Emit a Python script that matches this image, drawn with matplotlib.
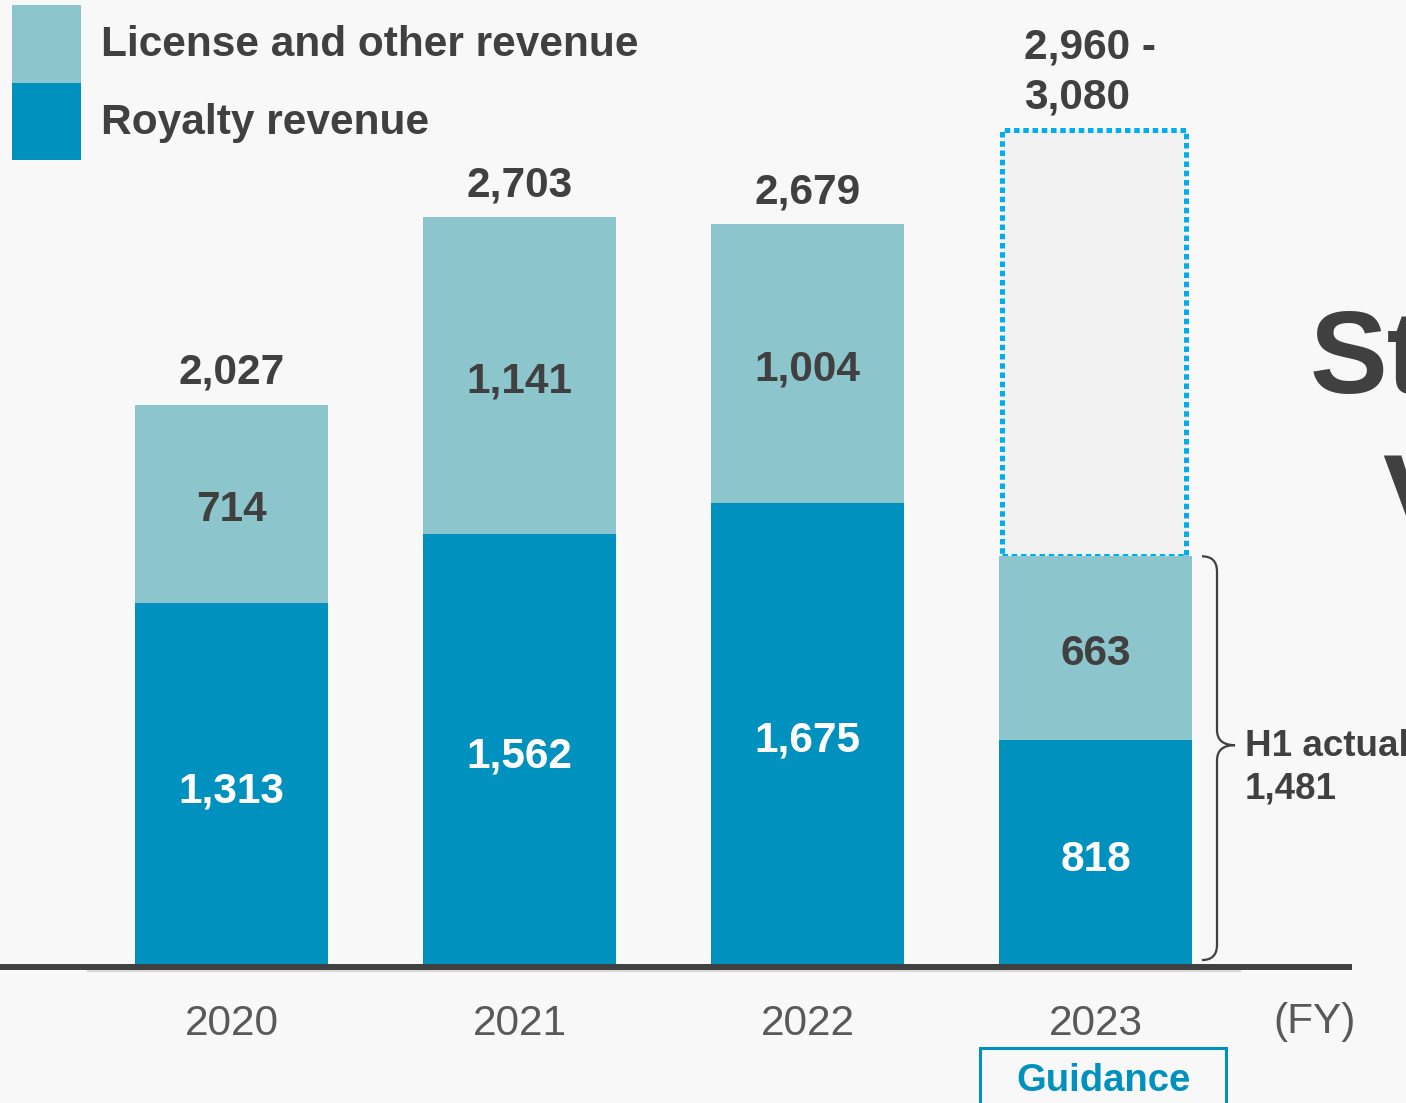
import matplotlib.pyplot as plt
from matplotlib.patches import Rectangle, PathPatch
from matplotlib.path import Path

plt.rcParams['font.family'] = ['Liberation Sans', 'DejaVu Sans']

years = ['2020', '2021', '2022', '2023']
royalty = [1313, 1562, 1675, 818]
license_other = [714, 1141, 1004, 663]
totals = [2027, 2703, 2679]
guidance_low, guidance_high = 2960, 3080
h1_actual = 1481

C_LIGHT = '#8cc5cc'
C_DARK = '#0091be'
C_TEXT = '#404040'

W, H = 1406, 1103
fig = plt.figure(figsize=(W / 100, H / 100), dpi=100)
fig.patch.set_facecolor('#f8f8f8')

# axes: y=0 sits on the baseline, 0.2773 px per unit
base_px = 967
ppu = 0.2773
ax = fig.add_axes([0, (H - base_px) / H, 1, base_px / H])
ax.set_xlim(-231.5 / 288, (W - 231.5) / 288)
ax.set_ylim(0, base_px / ppu)
ax.axis('off')
ax.patch.set_alpha(0)


def px(x, y):
    """pixel (from top-left) -> figure fraction"""
    return x / W, 1 - y / H


x = list(range(len(years)))
bw = 0.67
dy = 22  # nudge labels down a touch so digits sit optically centred

ax.bar(x, royalty, bw, color=C_DARK, zorder=2)
ax.bar(x, license_other, bw, bottom=royalty, color=C_LIGHT, zorder=2)

# guidance range box for 2023
mid_guid = (guidance_low + guidance_high) / 2
ax.add_patch(Rectangle((3 - bw / 2 + 0.01, h1_actual), bw - 0.03, mid_guid - h1_actual,
                       facecolor='#f2f2f2', edgecolor='#00aeef', lw=3.6,
                       linestyle=(0, (1.1, 0.75)), zorder=1.5))

# segment labels
for i in x:
    r, l = royalty[i], license_other[i]
    ax.text(i, r / 2 - dy, f'{r:,}', ha='center', va='center', color='white',
            fontsize=30.5, fontweight='bold', zorder=3)
    ax.text(i, r + l / 2 - dy, f'{l:,}', ha='center', va='center', color=C_TEXT,
            fontsize=30.5, fontweight='bold', zorder=3)

# totals on top
for i, t in enumerate(totals):
    ax.annotate(f'{t:,}', (i, t), xytext=(0, 23), textcoords='offset points',
                ha='center', va='center', color=C_TEXT, fontsize=30.5, fontweight='bold')
ax.annotate(f'{guidance_low:,} -\n{guidance_high:,}', (3 - bw / 2, mid_guid),
            xytext=(18, 41), textcoords='offset points', ha='left', va='center',
            color=C_TEXT, fontsize=30.5, fontweight='bold', linespacing=1.33)

# baseline
ax.plot([-231.5 / 288, 3.89], [0, 0], color=C_TEXT, lw=4.3, zorder=4,
        solid_capstyle='butt', clip_on=False)
ax.plot([(88 - 231.5) / 288, (1240 - 231.5) / 288], [-15, -15], color='#d9d9d9',
        lw=1.6, zorder=1, clip_on=False)

# year labels
for i, yr in enumerate(years):
    ax.text(i, -205, yr, ha='center', va='center', color='#595959', fontsize=30.5,
            clip_on=False)
ax.text((1315 - 231.5) / 288, -200, '(FY)', ha='center', va='center', color='#595959',
        fontsize=30.5, clip_on=False)

# Guidance tag
gx0, gx1 = (980 - 231.5) / 288, (1226 - 231.5) / 288
ax.add_patch(Rectangle((gx0, -520), gx1 - gx0, 520 - 292, facecolor='none',
                       edgecolor=C_DARK, lw=2.2, clip_on=False))
ax.text((gx0 + gx1) / 2, -410, 'Guidance', ha='center', va='center', color=C_DARK,
        fontsize=27.5, fontweight='bold', clip_on=False)

# curly brace for H1 actual
bx0, bx1, bx2 = (1202 - 231.5) / 288, (1217 - 231.5) / 288, (1235 - 231.5) / 288
top, bot = h1_actual, 25
mid = 800
r = 55
verts = [(bx0, top), (bx1, top), (bx1, top - r),
         (bx1, mid + r), (bx1, mid), (bx2, mid),
         (bx1, mid), (bx1, mid - r),
         (bx1, bot + r), (bx1, bot), (bx0, bot)]
codes = [Path.MOVETO, Path.CURVE3, Path.CURVE3,
         Path.LINETO, Path.CURVE3, Path.CURVE3,
         Path.CURVE3, Path.CURVE3,
         Path.LINETO, Path.CURVE3, Path.CURVE3]
ax.add_patch(PathPatch(Path(verts, codes), facecolor='none', edgecolor=C_TEXT, lw=1.6,
                       clip_on=False))
ax.text((1245 - 231.5) / 288, 720, f'H1 actual\n{h1_actual:,}', ha='left', va='center',
        color=C_TEXT, fontsize=26.5, fontweight='bold', linespacing=1.28, clip_on=False)

# legend
fig.patches.append(Rectangle(px(12, 83), 69 / W, 78 / H, transform=fig.transFigure,
                             facecolor=C_LIGHT, edgecolor='none'))
fig.patches.append(Rectangle(px(12, 160), 69 / W, 77 / H, transform=fig.transFigure,
                             facecolor=C_DARK, edgecolor='none'))
fig.text(*px(101, 45), 'License and other revenue', ha='left', va='center',
         color=C_TEXT, fontsize=30.5, fontweight='bold')
fig.text(*px(101, 123), 'Royalty revenue', ha='left', va='center',
         color=C_TEXT, fontsize=30.5, fontweight='bold')

# slide headline running off the right edge
fig.text(*px(1310, 362), 'St', ha='left', va='center', color=C_TEXT, fontsize=84,
         fontweight='bold')
fig.text(*px(1382, 505), 'V', ha='left', va='center', color=C_TEXT, fontsize=84,
         fontweight='bold')

fig.savefig('out.png', dpi=100, facecolor=fig.get_facecolor())
